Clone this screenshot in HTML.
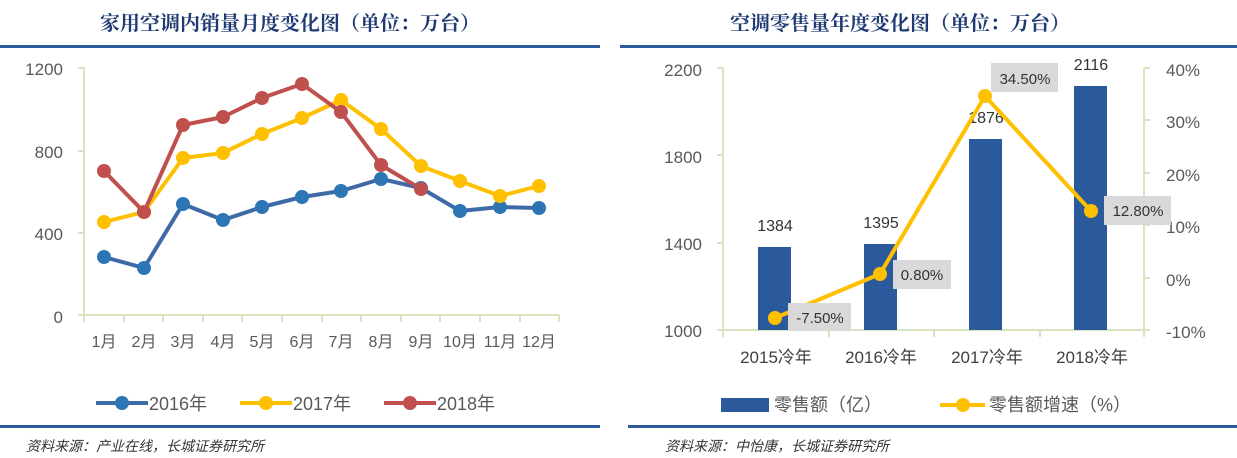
<!DOCTYPE html>
<html><head><meta charset="utf-8"><style>
body{margin:0;background:#fff;}
svg{display:block;font-family:"Liberation Sans","Noto Sans CJK SC",sans-serif;}
</style></head><body>
<svg width="1237" height="458" viewBox="0 0 1237 458" xmlns="http://www.w3.org/2000/svg">
<!-- Left panel -->
<text x="290" y="30" text-anchor="middle" font-size="20" fill="#1f3a73" font-family="'Noto Serif CJK SC','Noto Sans CJK SC',serif" font-weight="bold">家用空调内销量月度变化图（单位：万台）</text>
<rect x="0" y="45" width="600" height="3" fill="#2a5a9c"/>
<g fill="#595959" font-size="17" text-anchor="end">
<text x="63" y="75">1200</text><text x="63" y="158">800</text><text x="63" y="240">400</text><text x="63" y="323">0</text>
</g>
<g stroke="#d7e4bd" stroke-width="2" fill="none">
<line x1="84" y1="68" x2="84" y2="322"/>
<line x1="78" y1="68" x2="84" y2="68"/><line x1="78" y1="151" x2="84" y2="151"/><line x1="78" y1="233" x2="84" y2="233"/>
<line x1="78" y1="315" x2="559" y2="315"/>
<path d="M84 315v7M124 315v7M163 315v7M203 315v7M242 315v7M282 315v7M322 315v7M361 315v7M401 315v7M440 315v7M480 315v7M520 315v7M559 315v7"/>
</g>
<g fill="#595959" font-size="16" text-anchor="middle">
<text x="104" y="347">1月</text><text x="144" y="347">2月</text><text x="183" y="347">3月</text><text x="223" y="347">4月</text><text x="262" y="347">5月</text><text x="302" y="347">6月</text><text x="341" y="347">7月</text><text x="381" y="347">8月</text><text x="421" y="347">9月</text><text x="460" y="347">10月</text><text x="500" y="347">11月</text><text x="539" y="347">12月</text>
</g>
<g fill="none" stroke-width="4" stroke-linejoin="round">
<polyline stroke="#3e6aa8" points="104,257 144,268 183,204 223,220 262,207 302,197 341,191 381,179 421,188 460,211 500,207 539,208"/>
<polyline stroke="#ffc000" points="104,222 144,212 183,158 223,153 262,134 302,118 341,100 381,129 421,166 460,181 500,196 539,186"/>
<polyline stroke="#c0504d" points="104,171 144,212 183,125 223,117 262,98 302,84 341,112 381,165 421,189"/>
</g>
<g fill="#2e75b6">
<circle cx="104" cy="257" r="7"/><circle cx="144" cy="268" r="7"/><circle cx="183" cy="204" r="7"/><circle cx="223" cy="220" r="7"/><circle cx="262" cy="207" r="7"/><circle cx="302" cy="197" r="7"/><circle cx="341" cy="191" r="7"/><circle cx="381" cy="179" r="7"/><circle cx="421" cy="188" r="7"/><circle cx="460" cy="211" r="7"/><circle cx="500" cy="207" r="7"/><circle cx="539" cy="208" r="7"/>
</g>
<g fill="#ffc000">
<circle cx="104" cy="222" r="7"/><circle cx="144" cy="212" r="7"/><circle cx="183" cy="158" r="7"/><circle cx="223" cy="153" r="7"/><circle cx="262" cy="134" r="7"/><circle cx="302" cy="118" r="7"/><circle cx="341" cy="100" r="7"/><circle cx="381" cy="129" r="7"/><circle cx="421" cy="166" r="7"/><circle cx="460" cy="181" r="7"/><circle cx="500" cy="196" r="7"/><circle cx="539" cy="186" r="7"/>
</g>
<g fill="#c0504d">
<circle cx="104" cy="171" r="7"/><circle cx="144" cy="212" r="7"/><circle cx="183" cy="125" r="7"/><circle cx="223" cy="117" r="7"/><circle cx="262" cy="98" r="7"/><circle cx="302" cy="84" r="7"/><circle cx="341" cy="112" r="7"/><circle cx="381" cy="165" r="7"/><circle cx="421" cy="189" r="7"/>
</g>
<g font-size="18" fill="#595959">
<line x1="96" y1="403" x2="148" y2="403" stroke="#3e6aa8" stroke-width="4"/><circle cx="122" cy="403" r="7" fill="#2e75b6"/><text x="149" y="410">2016年</text>
<line x1="240" y1="403" x2="292" y2="403" stroke="#ffc000" stroke-width="4"/><circle cx="266" cy="403" r="7" fill="#ffc000"/><text x="293" y="410">2017年</text>
<line x1="384" y1="403" x2="436" y2="403" stroke="#c0504d" stroke-width="4"/><circle cx="410" cy="403" r="7" fill="#c0504d"/><text x="437" y="410">2018年</text>
</g>
<rect x="0" y="425" width="600" height="3" fill="#2a5a9c"/>
<text x="26" y="451" font-size="14" font-style="italic" fill="#333">资料来源：产业在线，长城证券研究所</text>

<!-- Right panel -->
<text x="900" y="30" text-anchor="middle" font-size="20" fill="#1f3a73" font-family="'Noto Serif CJK SC','Noto Sans CJK SC',serif" font-weight="bold">空调零售量年度变化图（单位：万台）</text>
<rect x="620" y="45" width="617" height="3" fill="#2a5a9c"/>
<g fill="#595959" font-size="17" text-anchor="end">
<text x="702" y="76">2200</text><text x="702" y="163">1800</text><text x="702" y="250">1400</text><text x="702" y="337">1000</text>
</g>
<g fill="#595959" font-size="17">
<text x="1166" y="76">40%</text><text x="1166" y="128">30%</text><text x="1166" y="181">20%</text><text x="1166" y="233">10%</text><text x="1166" y="286">0%</text><text x="1166" y="338">-10%</text>
</g>
<g stroke="#d7e4bd" stroke-width="2" fill="none">
<line x1="723" y1="68" x2="723" y2="337"/>
<path d="M717 68h6M717 155h6M717 243h6"/>
<line x1="717" y1="330" x2="1150" y2="330"/>
<line x1="1144" y1="68" x2="1144" y2="337"/>
<path d="M1144 68h6M1144 120h6M1144 173h6M1144 225h6M1144 278h6"/>
<path d="M829 330v7M934 330v7M1040 330v7"/>
</g>
<g fill="#2a5a9c">
<rect x="758" y="247" width="33" height="83"/>
<rect x="864" y="244" width="33" height="86"/>
<rect x="969" y="139" width="33" height="191"/>
<rect x="1074" y="86" width="33" height="244"/>
</g>
<g fill="#333" font-size="16" text-anchor="middle">
<text x="775" y="231">1384</text><text x="881" y="228">1395</text><text x="986" y="123">1876</text><text x="1091" y="70">2116</text>
</g>
<polyline fill="none" stroke="#ffc000" stroke-width="4" stroke-linejoin="round" points="775,318 880,274 985,96 1091,211"/>
<g fill="#ffc000">
<circle cx="775" cy="318" r="7"/><circle cx="880" cy="274" r="7"/><circle cx="985" cy="96" r="7"/><circle cx="1091" cy="211" r="7"/>
</g>
<g fill="#d9d9d9">
<rect x="788" y="303" width="63" height="28"/>
<rect x="893" y="260" width="58" height="29"/>
<rect x="991" y="63" width="67" height="29"/>
<rect x="1104" y="196" width="67" height="29"/>
</g>
<g fill="#333" font-size="15" text-anchor="middle">
<text x="820" y="323">-7.50%</text><text x="922" y="280">0.80%</text><text x="1025" y="84">34.50%</text><text x="1138" y="216">12.80%</text>
</g>
<g fill="#404040" font-size="17" text-anchor="middle">
<text x="776" y="363">2015冷年</text><text x="881" y="363">2016冷年</text><text x="987" y="363">2017冷年</text><text x="1092" y="363">2018冷年</text>
</g>
<rect x="721" y="398" width="48" height="14" fill="#2a5a9c"/>
<text x="774" y="411" font-size="18" fill="#595959">零售额（亿）</text>
<line x1="940" y1="405" x2="985" y2="405" stroke="#ffc000" stroke-width="4"/><circle cx="963" cy="405" r="7" fill="#ffc000"/>
<text x="989" y="411" font-size="18" fill="#595959">零售额增速（%）</text>
<rect x="628" y="425" width="609" height="3" fill="#2a5a9c"/>
<text x="665" y="451" font-size="14" font-style="italic" fill="#333">资料来源：中怡康，长城证券研究所</text>
</svg>
</body></html>
